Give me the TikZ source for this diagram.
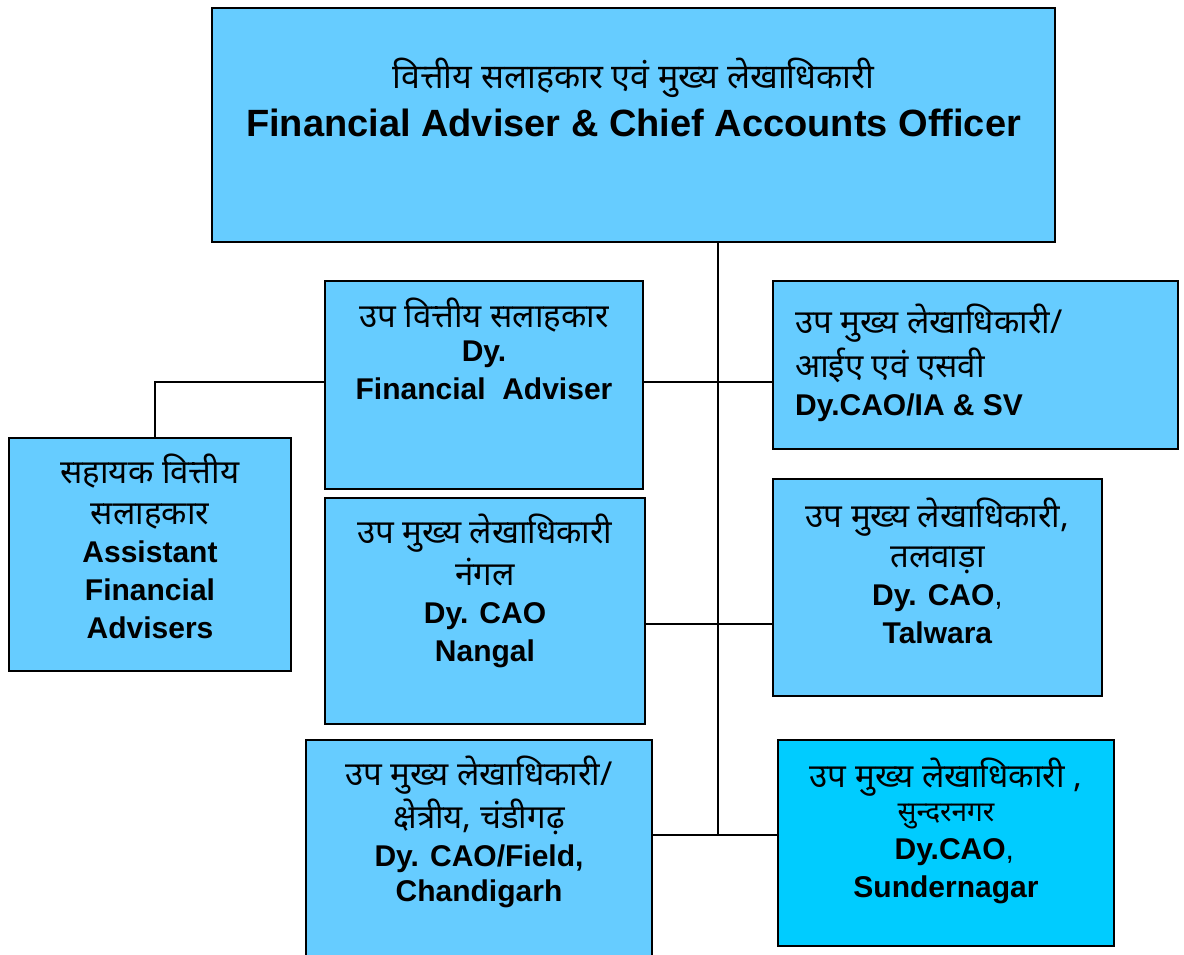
\documentclass[tikz,border=0pt]{standalone}
\usepackage{fontspec}
\setmainfont{Liberation Sans}
\newfontfamily\hindi[Script=Devanagari]{Noto Sans}
\usetikzlibrary{positioning}
\definecolor{officeblue}{RGB}{102,204,255}
\definecolor{officecyan}{RGB}{0,204,255}
\tikzset{
  office/.style={draw, line width=2pt, fill=officeblue, inner sep=0pt, outer sep=0pt},
  title/.style={inner sep=0pt, align=center, font=\fontsize{30}{38}\selectfont},
  link/.style={draw, line width=1.6pt}
}
\newcommand{\hn}[1]{{\hindi\fontsize{33}{38}\selectfont #1}}
\begin{document}
\begin{tikzpicture}[x=1pt, y=-1pt]
\useasboundingbox (0,0) rectangle (1184,954);
% offices
\node[office, minimum width=843pt, minimum height=234pt] (fa) at (633.5,125) {};
\node[office, minimum width=318pt, minimum height=208pt] (dfa) at (484,385) {};
\node[office, minimum width=405pt, minimum height=168pt] (ia) at (975.5,365) {};
\node[office, minimum width=282pt, minimum height=233pt] (afa) at (150,554.5) {};
\node[office, minimum width=320pt, minimum height=226pt] (ngl) at (485,611) {};
\node[office, minimum width=329pt, minimum height=217pt] (tlw) at (937.5,587.5) {};
\node[office, minimum width=346pt, minimum height=240pt] (fld) at (479,860) {};
\node[office, fill=officecyan, minimum width=336pt, minimum height=206pt] (snd) at (946,843) {};

% texts
\node[title, font=\fontsize{34}{48}\selectfont, below=50pt of fa.north] (fatxt) {{\hindi वित्तीय सलाहकार एवं मुख्य लेखाधिकारी}\\
  {\fontsize{38}{48}\selectfont\bfseries Financial Adviser \& Chief Accounts Officer}};
\node[title, below=17pt of dfa.north] (dfatxt) {\hn{उप वित्तीय सलाहकार}\\[-4pt] \textbf{Dy.}\\ \textbf{Financial\ \ Adviser}};
\node[title, align=left, anchor=north west] (iatxt) at ([xshift=22pt, yshift=-23pt]ia.north west)
  {\hn{उप मुख्य लेखाधिकारी/}\\[4pt] \hn{आईए एवं एसवी}\\ \textbf{Dy.CAO/IA \& SV}};
\node[title, below=16pt of afa.north] (afatxt) {\hn{सहायक वित्तीय}\\[3pt] \hn{सलाहकार}\\ \textbf{Assistant}\\ \textbf{Financial}\\ \textbf{Advisers}};
\node[title, below=16pt of ngl.north] (ngltxt) {\hn{उप मुख्य लेखाधिकारी}\\[4pt] \hn{नंगल}\\ \textbf{Dy. CAO}\\ \textbf{Nangal}};
\node[title, below=19pt of tlw.north] (tlwtxt) {\hn{उप मुख्य लेखाधिकारी,}\\[2pt] \hn{तलवाड़ा}\\ \textbf{Dy. CAO},\\ \textbf{Talwara}};
\node[title, below=16pt of fld.north] (fldtxt) {\hn{उप मुख्य लेखाधिकारी/}\\[3pt] \hn{क्षेत्रीय, चंडीगढ़}\\ \textbf{Dy. CAO/Field,}\\[-3pt] \textbf{Chandigarh}};
\node[title, below=18pt of snd.north] (sndtxt) {\hn{उप मुख्य लेखाधिकारी ,}\\[-4pt] {\hindi\fontsize{28}{38}\selectfont सुन्दरनगर}\\ \ \ \textbf{Dy.CAO},\\ \textbf{Sundernagar}};

% joints on the trunk
\coordinate (j1) at (718,382);
\coordinate (j2) at (718,624);
\coordinate (j3) at (718,835);

\path[link] (fa.south -| j1) -- (j3);
\path[link] (dfa.east |- j1) -- (ia.west |- j1);
\path[link] (dfa.west |- j1) -| ([xshift=5pt]afa.north);
\path[link] (ngl.east |- j2) -- (tlw.west |- j2);
\path[link] (fld.east |- j3) -- (snd.west |- j3);
\end{tikzpicture}
\end{document}
